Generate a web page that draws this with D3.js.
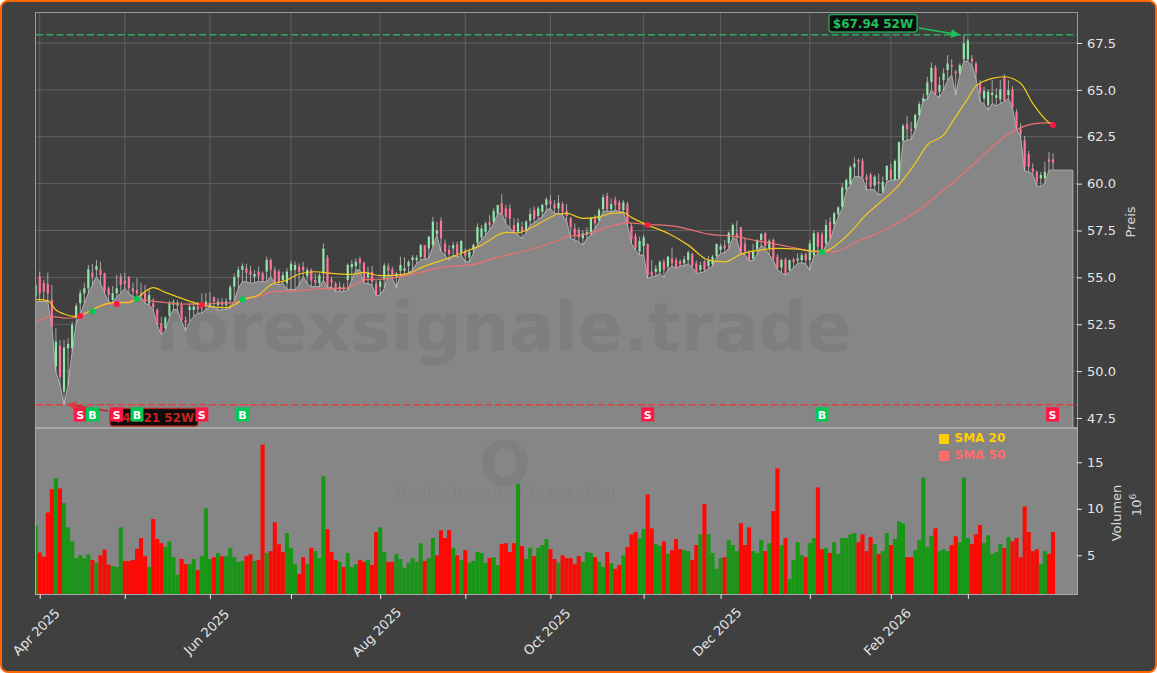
<!DOCTYPE html>
<html><head><meta charset="utf-8">
<style>html,body{margin:0;padding:0;background:#fff}svg{display:block}text{font-family:"DejaVu Sans",sans-serif}</style>
<script src="https://cdn.jsdelivr.net/npm/d3@7/dist/d3.min.js"></script>
</head><body><svg id="c" width="1157" height="673"></svg>
<script>
const high=[
54.86,55.31,54.86,55.25,54.6,52.29,51.66,51.66,51.75,52.64,
53.62,54.33,54.69,55.66,55.72,55.93,55.84,55.25,54.51,54.54,
55.13,55.22,55.25,55.04,54.72,54.95,54.69,54.6,54.33,53.89,
53.35,52.91,52.91,53.76,53.83,53.8,53.71,52.91,53.62,53.71,
53.71,54.15,54.15,54.24,53.97,53.89,53.89,53.89,54.6,55.22,
55.57,55.75,55.72,55.61,55.4,55.57,55.31,56.11,56.02,55.57,
55.43,55.31,55.49,55.89,55.84,55.75,55.83,55.53,55.48,55.21,
55.25,56.81,56.19,55.03,54.77,54.77,54.68,55.75,55.92,56.01,
56.1,55.83,55.57,55.6,54.86,54.86,55.75,55.75,55.57,55.3,
56.1,56.07,55.92,56.19,56.19,56.78,56.72,57.2,58.23,57.97,
58.2,57.03,56.72,56.9,56.9,56.99,56.54,56.54,56.81,57.88,
57.79,57.97,58.32,58.68,58.86,59.44,58.86,58.91,58.15,58.15,
57.97,58.06,58.68,58.77,58.8,58.95,59.27,59.39,59.12,59.39,
59.03,58.91,58.23,57.88,57.67,57.52,57.67,58.2,58.32,58.68,
59.44,59.51,59.21,59.3,59.12,59.12,59.03,57.91,57.35,57.17,
57.26,56.81,55.92,55.66,55.92,55.96,56.14,56.58,56.06,55.96,
56.14,56.42,56.31,55.89,55.83,55.92,56.14,56.19,56.81,56.81,
56.99,57.43,57.88,58.02,57.7,57.08,56.46,56.78,57.03,57.38,
57.43,57.03,57.08,56.24,56.01,56.06,55.96,56.06,56.28,56.31,
56.31,56.99,57.52,57.43,57.43,58.09,58.2,58.5,58.8,60.01,
60.28,60.99,61.4,61.35,61.35,60.51,60.58,60.46,60.54,60.37,
60.99,61.08,61.29,62.23,63.18,63.6,63.3,63.74,64.37,64.81,
65.7,66.45,66.32,65.7,66.14,66.86,66.63,66.06,66.41,67.94,
67.75,66.86,66.5,65.52,65.17,65.02,65.52,65.08,65.52,65.84,
65.52,65.2,63.96,63.21,62.54,61.75,61.08,60.69,60.63,61.17,
61.7,61.61];
const bodyTop=[
54.6,55.04,54.69,54.65,53.8,51.57,51.34,51.27,51.45,52.46,
53.48,54.15,54.42,55.43,55.25,55.61,55.43,55.22,54.42,54.15,
54.42,55.04,54.83,55.04,54.42,54.33,54.15,54.15,54.06,53.62,
53.26,52.55,52.87,53.67,53.71,53.67,53.58,52.73,53.44,53.44,
53.44,53.58,53.71,53.62,53.94,53.71,53.71,53.71,54.47,55.01,
55.4,55.61,55.49,55.36,55.18,55.31,55.22,55.93,55.93,55.4,
55.31,55.13,55.31,55.72,55.66,55.55,55.57,55.39,55.39,54.86,
55.12,56.54,56.07,54.89,54.68,54.5,54.5,55.66,55.71,55.83,
55.98,55.78,55.25,55.3,54.68,54.77,55.64,55.57,55.42,55.21,
55.66,55.48,55.83,56.07,56.05,56.72,56.72,57.17,57.97,57.49,
58.02,56.81,56.46,56.72,56.76,56.94,56.42,56.37,56.72,57.67,
57.61,57.88,57.97,58.54,58.86,58.95,58.68,58.68,57.79,57.91,
57.7,57.97,58.38,58.59,58.68,58.86,59.16,59.09,58.91,58.98,
58.91,58.55,58.15,57.61,57.52,57.35,57.43,58.15,58.15,58.59,
59.27,59.34,58.91,59.16,59.0,59.0,58.91,57.74,57.2,56.94,
57.13,56.78,55.3,55.48,55.83,55.83,56.1,56.01,55.92,55.87,
55.96,56.33,56.24,55.75,55.66,55.85,55.92,56.1,56.78,56.67,
56.72,57.38,57.79,57.35,57.67,56.81,56.31,56.4,56.99,57.31,
57.35,56.95,56.99,56.1,55.92,55.96,55.92,55.96,56.01,56.19,
56.24,56.81,57.35,57.38,57.31,57.79,57.97,58.41,58.73,59.8,
60.19,60.87,61.08,61.26,61.22,60.37,60.49,60.37,60.1,60.1,
60.94,60.76,61.22,62.23,63.09,63.18,62.91,63.66,64.24,64.55,
65.4,66.18,66.18,65.26,65.88,66.41,66.32,65.97,66.32,67.48,
67.62,66.68,66.41,65.31,64.95,64.9,64.85,64.72,65.03,65.67,
64.99,65.03,63.82,62.94,62.3,61.58,60.81,60.63,60.46,60.63,
61.29,61.29];
const bodyBottom=[
53.97,54.15,54.24,54.15,52.37,50.24,49.67,48.91,51.22,51.22,
52.91,53.62,54.15,54.42,55.04,55.4,55.13,54.29,54.06,53.8,
54.15,54.6,54.65,54.42,54.24,54.15,54.01,53.71,53.62,53.41,
52.55,52.05,52.29,52.96,53.53,53.49,52.73,52.59,53.26,53.26,
53.3,53.35,53.49,53.44,53.71,53.53,53.53,53.53,53.8,54.51,
55.01,55.4,55.25,55.13,55.04,55.08,54.83,55.31,55.4,54.72,
54.72,54.86,54.69,55.36,55.4,55.3,55.39,55.07,54.82,54.71,
54.68,55.21,54.54,54.71,54.29,54.36,54.32,54.86,55.53,55.6,
55.75,54.77,55.0,54.77,54.06,54.5,54.89,55.35,55.07,55.03,
55.35,55.35,55.6,55.92,55.92,56.1,56.01,56.54,56.72,57.31,
57.08,56.37,56.24,56.54,56.24,56.31,56.17,56.07,56.46,56.85,
57.13,57.43,57.79,57.97,58.41,58.41,58.23,58.15,57.43,57.43,
57.43,57.52,58.02,58.11,58.27,58.5,58.86,58.91,58.68,58.68,
58.5,58.27,57.67,57.26,57.13,57.08,57.26,57.35,57.88,58.06,
58.63,58.64,58.64,58.86,58.59,58.59,57.91,57.03,56.58,56.37,
56.67,55.12,55.12,55.3,55.3,55.39,55.57,55.75,55.53,55.69,
55.75,55.92,55.6,55.25,55.39,55.42,55.6,55.71,56.14,56.46,
56.54,56.81,57.26,57.13,56.31,56.37,55.92,56.01,56.49,56.99,
56.67,56.54,56.01,55.53,55.53,55.18,55.39,55.82,55.89,55.92,
55.92,55.92,56.19,56.63,56.46,56.81,57.08,57.84,58.38,58.77,
59.69,59.96,60.87,61.17,60.37,60.19,59.83,59.89,60.01,59.57,
60.19,60.28,60.19,60.28,62.29,62.91,62.82,62.95,63.66,64.37,
64.72,65.43,64.78,64.9,65.52,66.06,66.23,65.88,65.88,66.63,
66.63,66.5,65.91,64.81,64.54,64.19,64.72,64.58,64.49,64.42,
64.72,64.06,63.03,62.64,60.9,60.9,60.63,60.1,60.28,60.28,
61.17,61.12];
const low=[
53.71,53.71,53.71,53.71,52.37,49.97,49.26,48.21,49.26,51.04,
52.55,53.0,53.62,54.15,54.6,55.04,54.69,54.15,53.71,53.62,
53.97,54.15,54.42,54.15,53.97,53.89,53.94,53.62,53.53,53.26,
52.46,51.93,52.16,52.87,53.3,53.26,52.64,52.16,52.64,52.91,
53.09,53.09,53.3,53.44,53.44,53.26,53.26,53.3,53.35,53.76,
54.42,54.77,54.77,54.69,54.72,54.77,54.77,54.77,55.04,54.65,
54.6,54.69,54.33,54.37,54.33,54.6,55.03,54.68,54.5,54.5,
54.5,54.86,54.46,54.5,54.23,54.29,54.23,54.32,54.86,55.39,
55.39,54.68,54.68,54.59,54.0,54.06,54.41,55.21,54.95,54.46,
55.12,55.12,55.25,55.39,55.75,55.92,55.96,56.01,56.63,57.26,
56.37,56.19,55.92,56.19,56.07,56.19,55.83,55.83,56.28,56.72,
56.99,57.26,57.52,57.88,58.41,58.41,57.88,57.61,57.43,57.26,
57.08,57.38,57.79,57.91,58.09,58.23,58.59,58.68,58.41,58.41,
58.32,58.02,57.08,56.99,56.9,56.72,57.08,57.26,57.61,57.97,
58.5,58.55,58.5,58.59,58.5,58.5,57.79,56.81,56.46,56.19,
56.19,54.95,55.03,55.07,55.21,55.0,55.42,55.6,55.48,55.6,
55.64,55.71,55.53,55.21,55.25,55.3,55.48,55.6,56.07,56.28,
56.31,56.54,57.13,56.99,56.24,56.24,55.89,55.89,56.24,56.72,
56.54,56.19,55.92,55.42,55.25,55.12,55.3,55.53,55.75,55.78,
55.71,55.39,56.14,56.24,56.24,56.72,56.99,57.66,58.2,58.68,
59.57,59.92,60.37,60.37,60.33,59.66,59.69,59.66,59.39,59.48,
60.1,60.19,60.19,60.24,62.23,62.32,62.36,62.86,63.57,64.46,
64.49,64.99,64.72,64.6,64.99,65.52,65.79,64.72,65.79,66.55,
66.5,66.32,65.61,64.37,64.24,63.92,64.28,64.14,64.28,64.37,
64.54,64.01,62.94,62.5,60.69,60.63,60.51,59.87,59.83,60.01,
60.72,60.72];
const candleDirs=("GRRRRGRGGG GGGGRGRRRG GRRRRRRRGR RRGGGGRRGG RGGGRGRGGG GGRRGRRGRR RGGGGRRGRR GGRRRGRGGG RRGRRGGRRG GGGGGGRGGG "+
"RRRGRGRGGG GGRGGRRRRG RGGRGGGRRG RRRRRGGGRG GRGRRGRRRG GRRGGRGRRR GGRRGRGGGG RGGRRRRGGG RGRRGRGRGG RGGRRGRGGG "+
"GGGRRRRGRG GRGGGRRGGG GGRGGGRRGG GRRRGGGGGR GRRRRRRRGG RR").replace(/ /g,"").split("");
const volumes=[
8.2,5.3,4.85,9.6,12.1,13.3,12.2,10.6,8.0,6.5,
4.7,5.0,4.7,5.1,4.5,4.2,5.0,5.6,4.0,3.85,
3.75,8.0,4.4,4.4,4.5,5.7,6.85,4.9,3.75,8.9,
6.75,6.3,5.9,6.5,4.8,2.9,4.6,4.05,4.05,4.6,
3.4,4.9,10.05,4.6,4.8,5.25,4.9,4.9,5.8,4.8,
4.3,4.4,4.9,5.1,4.4,4.5,16.9,5.25,5.45,8.55,
6.2,5.35,7.4,5.8,4.05,3.0,4.8,4.05,5.8,5.45,
4.7,13.5,7.8,5.35,4.5,4.3,3.75,5.25,3.75,4.05,
4.5,4.3,4.5,3.95,7.5,8.0,5.35,4.3,4.3,5.15,
4.6,3.65,4.2,4.7,4.3,6.3,4.4,4.7,6.85,5.0,
7.7,6.85,7.7,5.8,5.0,4.5,5.55,4.2,4.4,5.35,
5.25,4.2,4.7,4.8,3.95,6.2,6.3,5.35,6.3,12.7,
6.0,4.6,5.8,4.9,5.8,6.1,6.75,5.65,4.6,4.2,
5.0,4.7,4.7,4.05,4.9,4.3,5.35,5.25,4.8,4.3,
3.75,5.35,4.15,3.55,3.95,5.0,5.9,7.25,7.5,6.85,
7.8,11.55,7.9,6.2,6.0,6.5,5.15,5.55,6.75,5.65,
5.55,5.45,4.5,6.1,7.25,10.5,7.25,5.25,3.55,4.7,
4.8,6.65,6.1,5.45,8.45,6.1,8.0,5.45,5.25,6.65,
5.45,6.3,9.75,14.35,6.1,6.85,2.45,4.5,6.4,5.0,
4.8,6.3,6.85,12.3,5.65,5.8,5.25,6.4,5.15,6.85,
6.85,7.25,7.4,6.4,7.25,5.45,6.95,6.2,5.15,5.45,
7.4,6.1,6.75,8.65,8.45,4.8,4.8,5.55,6.65,13.35,
5.9,7.05,7.9,5.45,5.65,5.45,6.1,7.05,6.4,13.35,
6.85,6.2,7.25,8.25,6.3,7.15,5.15,5.35,6.2,5.8,
6.95,6.5,6.85,4.8,10.25,7.5,5.45,5.65,4.05,5.45,
5.15,7.5];
const volumeDirs=("GRRRRGRGGG GGGGRGRRRG GGRRRRRRGR RRGGGGRRGG RGGGRGRGGG GGRRGRRGRR RRGGGRRGRG GGRRRGRGGG RRGRRGGRRG GGGGGGRGGR "+
"RRRGRGRGGG GGRGGRRRRG RGGRGGGRRG RRRRRGGGRG GRGRRGRRRG GRRGGRGRRR GGRRGRGGGG RGGGRRRGGG RGRRGRGGGG RGGRRGRGGG "+
"GGGRRRRGRG GRGGGRRGGG GGRGGGRRGG GRRRGGGGGR GRRRRRRRGG RR").replace(/ /g,"").split("");
const sma20Days=[0,3,5,7,10,13,16,19,23,25,27,29,32,36,39,41,45,47,49,51,55,58,62,65,69,73,78,81,85,89,92,96,101,106,110,116,119,122,126,129,131,135,139,142,145,147,150,156,161,166,170,174,179,183,188,192,195,198,203,204,208,212,217,220,224,227,230,232,236,239,243,246,250,251];
const sma20=[53.83,53.76,53.26,53.05,52.91,53.17,53.48,53.65,53.65,53.88,54.24,54.45,54.2,53.88,53.65,53.53,53.4,53.39,53.53,53.8,54.06,54.6,54.86,55.18,55.3,55.21,55.16,55.27,55.09,55.12,55.21,55.6,55.96,56.37,56.72,57.4,57.38,57.61,58.09,58.38,58.41,58.15,58.23,58.41,58.45,58.2,57.88,57.35,56.72,55.92,55.83,56.24,56.46,56.55,56.51,56.4,56.42,56.81,57.88,58.14,58.94,59.69,61.08,62.06,62.59,63.57,64.55,65.2,65.61,65.7,65.35,64.28,63.25,63.1];
const sma50Days=[0,4,8,11,13,16,20,25,30,36,41,45,49,51,55,59,65,69,73,76,82,86,90,94,100,108,114,121,128,131,135,139,142,146,151,157,161,166,172,178,184,188,193,197,203,208,214,219,223,228,232,236,241,244,247,251];
const sma50=[52.64,52.91,52.82,52.94,53.17,53.48,53.62,53.8,53.71,53.58,53.57,53.62,53.65,53.8,54.01,54.24,54.29,54.38,54.41,54.41,54.89,54.91,55.03,55.21,55.53,55.69,56.07,56.42,56.9,57.17,57.26,57.52,57.74,57.91,57.82,57.75,57.57,57.31,57.2,56.95,56.72,56.54,56.35,56.37,56.94,57.37,58.06,58.77,59.48,60.37,61.17,61.97,62.77,63.07,63.21,63.25];
const signalDays=[11,14,20,25,41,51,151,194,251];
const signalTypes=["S","B","S","B","S","B","S","B","S"];
const signalPrices=[52.94,53.2,53.58,53.85,53.53,53.82,57.79,56.35,63.13];
const priceTicks=[47.5,50,52.5,55,57.5,60,62.5,65,67.5];
const volumeTicks=[5,10,15];
const dateTickDays=[1,22,43,63,85,106,127,150,169,191,211,230];
const dateTickLabels=["Apr 2025","","Jun 2025","","Aug 2025","","Oct 2025","","Dec 2025","","Feb 2026",""];
const high52=67.94, low52=48.21;
const high52Label="$67.94 52W", low52Label="$48.21 52W";
const legendLabels=["SMA 20","SMA 50"];
const areaEndDay=255.9;

const L=36,R=1077,T=13,M=428,B=594;
const x=d3.scaleLinear().domain([0,251]).range([35.65,1053]);
const y=d3.scaleLinear().domain([47.5,67.5]).range([418,43]);
const yv=d3.scaleLinear().domain([5,15]).range([555.3,462.3]);
const svg=d3.select("#c");
const defs=svg.append("defs");
defs.append("clipPath").attr("id","cp").append("rect").attr("x",L).attr("y",T).attr("width",R-L).attr("height",M-T);
defs.append("clipPath").attr("id","cv").append("rect").attr("x",L).attr("y",M).attr("width",R-L).attr("height",B-M);
defs.append("marker").attr("id","ag").attr("viewBox","0 0 10 10").attr("refX",9).attr("refY",5).attr("markerWidth",9).attr("markerHeight",9).attr("markerUnits","userSpaceOnUse").attr("orient","auto").append("path").attr("d","M0,0L10,5L0,10Z").attr("fill","#1fc05e");
defs.append("marker").attr("id","ar").attr("viewBox","0 0 10 10").attr("refX",9).attr("refY",5).attr("markerWidth",9).attr("markerHeight",9).attr("markerUnits","userSpaceOnUse").attr("orient","auto").append("path").attr("d","M0,0L10,5L0,10Z").attr("fill","#e53935");

svg.append("rect").attr("x",1).attr("y",1).attr("width",1155).attr("height",671).attr("rx",7).attr("fill","#404040").attr("stroke","#ff6600").attr("stroke-width",2);

// grid
const grid=svg.append("g").attr("stroke","#646464").attr("stroke-width",0.9);
grid.selectAll("line.v").data(dateTickDays).join("line").attr("x1",d=>x(d)).attr("x2",d=>x(d)).attr("y1",T).attr("y2",M);
grid.selectAll("line.h").data(priceTicks).join("line").attr("x1",L).attr("x2",R).attr("y1",d=>y(d)).attr("y2",d=>y(d));

const pg=svg.append("g").attr("clip-path","url(#cp)");
const days=d3.range(low.length);
const areaDays=days.concat([areaEndDay]);
const areaPath=d3.area().x(d=>x(d)).y0(M+3).y1(d=>y(d===areaEndDay?low[251]:low[d]));
pg.append("path").datum(areaDays).attr("d",areaPath).attr("fill","#868686").attr("stroke","#b0b0b0").attr("stroke-width",1);

const wm=svg.append("g").attr("pointer-events","none");
wm.append("text").attr("x",503).attr("y",351).attr("text-anchor","middle").attr("font-size",67).attr("font-weight","bold").attr("fill","#000").attr("fill-opacity",0.055).text("forexsignale.trade");

// 52W lines
pg.append("line").attr("x1",L).attr("x2",R).attr("y1",y(high52)).attr("y2",y(high52)).attr("stroke","#2fa862").attr("stroke-width",1.6).attr("stroke-dasharray","7 3.2");
pg.append("line").attr("x1",L).attr("x2",R).attr("y1",y(low52)).attr("y2",y(low52)).attr("stroke","#e24040").attr("stroke-width",1.6).attr("stroke-dasharray","7 3.2");

// candles
const cg=pg.append("g");
cg.selectAll("line").data(days).join("line").attr("x1",d=>x(d)).attr("x2",d=>x(d)).attr("y1",d=>y(high[d])).attr("y2",d=>y(low[d])).attr("stroke","#d4d4d4").attr("stroke-width",0.7);
cg.selectAll("rect").data(days).join("rect").attr("x",d=>x(d)-1.1).attr("width",2.2).attr("y",d=>y(bodyTop[d])).attr("height",d=>Math.max(1.2,y(bodyBottom[d])-y(bodyTop[d])))
 .attr("fill",d=>candleDirs[d]==="G"?"#8fe8a8":"#ff7398");

// SMAs
const lineGen=(ds,vs)=>d3.line().x(i=>x(ds[i])).y(i=>y(vs[i])).curve(d3.curveMonotoneX)(d3.range(ds.length));
pg.append("path").attr("d",lineGen(sma50Days,sma50)).attr("fill","none").attr("stroke","#ee7070").attr("stroke-width",1.2);
pg.append("path").attr("d",lineGen(sma20Days,sma20)).attr("fill","none").attr("stroke","#f4c81c").attr("stroke-width",1.2);
pg.selectAll("circle").data(d3.range(signalDays.length)).join("circle").attr("cx",i=>x(signalDays[i])).attr("cy",i=>y(signalPrices[i])).attr("r",3).attr("fill",i=>signalTypes[i]==="S"?"#ff1744":"#00c853");

// annotations
const note=(px,py,w,lab,col,mk,ax1,ay1,ax2,ay2)=>{
  svg.append("line").attr("x1",ax1).attr("y1",ay1).attr("x2",ax2).attr("y2",ay2).attr("stroke",col).attr("stroke-width",1.6).attr("marker-end","url(#"+mk+")");
  svg.append("rect").attr("x",px).attr("y",py).attr("width",w).attr("height",17.5).attr("rx",3).attr("fill","#0c0c0c").attr("stroke",col).attr("stroke-width",1.4).attr("stroke-opacity",.8);
  svg.append("text").attr("x",px+w/2).attr("y",py+13).attr("text-anchor","middle").attr("font-size",12).attr("font-weight","bold").attr("fill",col).text(lab);
};
note(829,14.5,88,high52Label,"#1fc05e","ag",919,28,959,y(high52));
note(110,408.5,88,low52Label,"#c62222","ar",108,411,68,404.5);

// signal markers
const sg=svg.append("g");
sg.selectAll("rect").data(d3.range(signalDays.length)).join("rect").attr("x",i=>x(signalDays[i])-6.5-(signalDays[i]===251?.5:0)).attr("y",407.3).attr("width",13).attr("height",14.2).attr("fill",i=>signalTypes[i]==="S"?"#ff1744":"#00c853");
sg.selectAll("text").data(d3.range(signalDays.length)).join("text").attr("x",i=>x(signalDays[i])-(signalDays[i]===251?.5:0)).attr("y",418.5).attr("text-anchor","middle").attr("font-size",11).attr("font-weight","bold").attr("fill","#fff").text(i=>signalTypes[i]);

// volume panel
svg.append("rect").attr("x",L).attr("y",M).attr("width",R-L).attr("height",B-M).attr("fill","#868686");
svg.append("text").attr("x",505).attr("y",485).attr("text-anchor","middle").attr("font-size",61).attr("font-weight","bold").attr("fill","#000").attr("fill-opacity",0.05).text("O");
svg.append("text").attr("x",506).attr("y",497).attr("text-anchor","middle").attr("font-size",16.5).attr("fill","#000").attr("fill-opacity",0.05).text("Realty Income Corporation");
const vg=svg.append("g").attr("clip-path","url(#cv)");
vg.selectAll("rect").data(days).join("rect").attr("x",d=>x(d)-2.03).attr("width",4.06).attr("y",d=>yv(volumes[d])).attr("height",d=>B-yv(volumes[d])).attr("fill",d=>volumeDirs[d]==="G"?"#189616":"#fd0a04");

// legend
const legendColors=["#ffd000","#ff6b6b"];
legendLabels.forEach((t,i)=>{
 svg.append("rect").attr("x",939).attr("y",434+i*17).attr("width",10).attr("height",10).attr("fill",legendColors[i]);
 svg.append("text").attr("x",954.5).attr("y",442+i*17).attr("font-size",12).attr("font-weight","bold").attr("fill",legendColors[i]).text(t);
});

// spines
const sp=svg.append("g").attr("fill","none");
sp.append("rect").attr("x",L-.5).attr("y",T-.5).attr("width",R-L+1).attr("height",M-T).attr("stroke","#9a9a9a").attr("stroke-width",1);
sp.append("line").attr("x1",L).attr("x2",R).attr("y1",M).attr("y2",M).attr("stroke","#a8a8a8").attr("stroke-width",2.2);
sp.append("rect").attr("x",L-.5).attr("y",M).attr("width",R-L+1).attr("height",B-M+.5).attr("stroke","#a8a8a8").attr("stroke-width",1);

// axes
const style=g=>{g.select(".domain").remove();g.selectAll("line").attr("stroke","#e6e6e6");g.selectAll("text").attr("fill","#e6e6e6").attr("font-size",13).attr("font-family","DejaVu Sans");};
svg.append("g").attr("transform",`translate(${R},0)`).call(d3.axisRight(y).tickValues(priceTicks).tickSize(5).tickPadding(5).tickFormat(d3.format(".1f"))).call(style);
svg.append("g").attr("transform",`translate(${R},0)`).call(d3.axisRight(yv).tickValues(volumeTicks).tickSize(5).tickPadding(5).tickFormat(d3.format("d"))).call(style);
const xa=svg.append("g").attr("transform",`translate(0,${B})`).call(d3.axisBottom(x).tickValues(dateTickDays).tickSize(5).tickFormat((d,i)=>dateTickLabels[i])).call(style);
xa.selectAll("text").attr("text-anchor","middle").attr("transform","translate(-4,38) rotate(-45)").attr("x",0).attr("y",0).attr("dy",".35em");

const rot=(t,cx,cy,fs,col)=>svg.append("text").attr("transform",`translate(${cx},${cy}) rotate(-90)`).attr("text-anchor","middle").attr("font-size",fs).attr("fill",col).attr("dy",".35em").text(t);
rot("Preis",1130,222,13,"#d8d8d8");
rot("Volumen",1116,513,13,"#d8d8d8");
const sci=rot("10",1136,505,13,"#d8d8d8");
sci.append("tspan").attr("font-size",9).attr("dy","-.55em").text("6");
</script></body></html>
